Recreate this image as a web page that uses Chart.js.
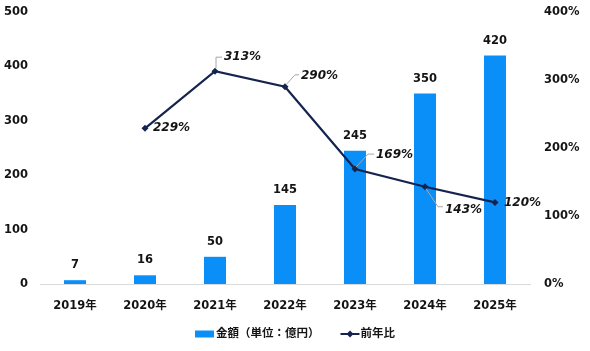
<!DOCTYPE html>
<html><head><meta charset="utf-8">
<script src="https://cdn.jsdelivr.net/npm/chart.js@4.4.1/dist/chart.umd.min.js"></script>
<style>html,body{margin:0;padding:0;background:#fff}canvas{display:block}</style>
</head><body>
<canvas id="c" width="590" height="351"></canvas>
<script>
const categories = ['2019年','2020年','2021年','2022年','2023年','2024年','2025年'];
const amounts = [7, 16, 50, 145, 245, 350, 420];
const growthPct = [null, 229, 313, 290, 169, 143, 120];
const leftTicks = [0, 100, 200, 300, 400, 500];
const rightTicks = [0, 100, 200, 300, 400];
const seriesNames = ['金額（単位：億円）', '前年比'];

const FONT = '"DejaVu Sans","Noto Sans CJK JP",sans-serif';
const TXT = '#141414';
const BAR = '#0A8FF8';
const LINE = '#15244F';
const LEADER = '#A6A6A6';
const FS = 11.5;

// placement of line value labels relative to their point (text left edge / middle), with leader paths
const linePlacement = [
  null,
  {dx: 8, dy: 0, leader: null},
  {dx: 9, dy: -14, leader: [[1, -3], [1, -14], [7, -14]]},
  {dx: 16, dy: -11, leader: [[1, -2], [10, -12], [14, -12]]},
  {dx: 21, dy: -14, leader: [[1, -2], [13, -15], [19, -15]]},
  {dx: 20, dy: 23, leader: [[1, 2], [13, 20], [18, 20]]},
  {dx: 9, dy: 0, leader: null}
];

const labelPlugin = {
  id: 'labels',
  afterDatasetsDraw(chart) {
    const ctx = chart.ctx;
    ctx.save();
    const barMeta = chart.getDatasetMeta(0);
    ctx.font = 'bold ' + FS + 'px ' + FONT;
    ctx.fillStyle = TXT;
    ctx.textAlign = 'center';
    ctx.textBaseline = 'middle';
    barMeta.data.forEach((el, i) => {
      ctx.fillText(String(amounts[i]), el.x, el.y - 15);
    });
    const lineMeta = chart.getDatasetMeta(1);
    ctx.font = 'italic bold 12px ' + FONT;
    ctx.textAlign = 'left';
    lineMeta.data.forEach((el, i) => {
      const v = growthPct[i];
      const p = linePlacement[i];
      if (v == null || !p) return;
      if (p.leader) {
        ctx.strokeStyle = LEADER;
        ctx.lineWidth = 1;
        ctx.beginPath();
        p.leader.forEach((pt, k) => {
          const X = el.x + pt[0], Y = el.y + pt[1];
          if (k === 0) ctx.moveTo(X, Y); else ctx.lineTo(X, Y);
        });
        ctx.stroke();
      }
      ctx.fillStyle = TXT;
      ctx.fillText(v + '%', el.x + p.dx, el.y + p.dy);
    });
    ctx.restore();
  },
  afterDraw(chart) {
    const ctx = chart.ctx;
    ctx.save();
    ctx.font = 'bold ' + FS + 'px ' + FONT;
    const w1 = ctx.measureText(seriesNames[0]).width;
    const w2 = ctx.measureText(seriesNames[1]).width;
    const total = 19 + 2 + w1 + 21 + 19 + 1 + w2;
    let x = 295 - total / 2;
    const y = 334;
    ctx.fillStyle = BAR;
    ctx.fillRect(x, y - 3.5, 19, 7);
    x += 21;
    ctx.fillStyle = TXT;
    ctx.textAlign = 'left';
    ctx.textBaseline = 'middle';
    ctx.fillText(seriesNames[0], x, y);
    x += w1 + 21;
    ctx.strokeStyle = LINE;
    ctx.lineWidth = 2;
    ctx.beginPath();
    ctx.moveTo(x, y); ctx.lineTo(x + 19, y);
    ctx.stroke();
    ctx.fillStyle = LINE;
    ctx.beginPath();
    const cx = x + 9.5, r = 3.5;
    ctx.moveTo(cx, y - r); ctx.lineTo(cx + r, y); ctx.lineTo(cx, y + r); ctx.lineTo(cx - r, y);
    ctx.closePath(); ctx.fill();
    x += 20;
    ctx.fillStyle = TXT;
    ctx.fillText(seriesNames[1], x, y);
    ctx.restore();
  }
};

const tickFont = {family: FONT, size: FS, weight: 'bold'};
function noPad(s) { s.paddingTop = 0; s.paddingBottom = 0; s.paddingLeft = 0; s.paddingRight = 0; }

new Chart(document.getElementById('c'), {
  data: {
    labels: categories,
    datasets: [
      {type: 'bar', label: seriesNames[0], data: amounts, backgroundColor: BAR,
       barPercentage: 0.314, categoryPercentage: 1, yAxisID: 'y', order: 2},
      {type: 'line', label: seriesNames[1], data: growthPct, borderColor: LINE, backgroundColor: LINE,
       borderWidth: 2.2, pointStyle: 'rectRot', pointRadius: 3.5, pointBackgroundColor: LINE,
       pointBorderColor: LINE, pointBorderWidth: 0, tension: 0, yAxisID: 'y1', order: 1}
    ]
  },
  options: {
    responsive: false,
    animation: false,
    events: [],
    layout: {padding: {top: 12, left: 0, right: 0, bottom: 37}},
    plugins: {legend: {display: false}, tooltip: {enabled: false}},
    scales: {
      x: {
        grid: {display: false, drawTicks: false},
        border: {display: true, color: '#D9D9D9', width: 1},
        ticks: {font: tickFont, color: TXT, padding: 15, maxRotation: 0},
        afterFit(s) { s.height = 30; noPad(s); }
      },
      y: {
        position: 'left', min: leftTicks[0], max: leftTicks[leftTicks.length - 1],
        grid: {display: false, drawTicks: false},
        border: {display: false},
        ticks: {stepSize: 100, font: tickFont, color: TXT, padding: 12},
        afterFit(s) { s.width = 40; noPad(s); }
      },
      y1: {
        position: 'right', min: rightTicks[0], max: rightTicks[rightTicks.length - 1],
        grid: {display: false, drawTicks: false},
        border: {display: false},
        ticks: {stepSize: 100, font: tickFont, color: TXT, padding: 14, callback: v => v + '%'},
        afterFit(s) { s.width = 60; noPad(s); }
      }
    }
  },
  plugins: [labelPlugin]
});
</script>
</body></html>
